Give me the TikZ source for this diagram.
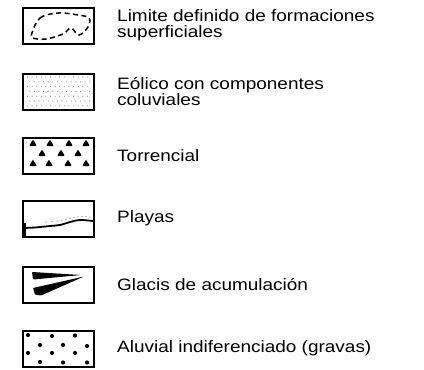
\documentclass[tikz,border=0pt]{standalone}
\usepackage{fontspec}
\setmainfont{Liberation Sans}[FakeStretch=1.15]
\usetikzlibrary{positioning}

\begin{document}
\begin{tikzpicture}
    [x=1pt,y=-1pt,
     legend/.style={draw,line width=2pt,minimum width=71pt,minimum height=36pt,inner sep=0pt},
     entry/.style={align=left,anchor=west,inner sep=0pt,font=\fontsize{16.5}{16}\selectfont}]

    \useasboundingbox (0,0) rectangle (424,370);

    \node[legend] (limite) at (58.5,25.5) {};
    \node[legend] (eolico) at (58.5,91.5) {};
    \node[legend] (torrencial) at (58.5,155.5) {};
    \node[legend] (playas) at (58.5,218.5) {};
    \node[legend] (glacis) at (58.5,284.5) {};
    \node[legend] (aluvial) at (58.5,348.5) {};

    % limite: dashed outline
    \draw[line width=1.5pt,dash pattern=on 5pt off 3.5pt] plot[smooth cycle,tension=0.6]
        coordinates {(32,33) (40,18) (58,13) (78,15) (89,18) (88,27) (79,35) (71,28) (63,34) (46,39) (33,38)};

    % eolico: fine stipple
    \foreach \i in {0,...,13}
        \foreach \j in {0,...,6}
            \fill[gray] ({27.5+4.6*\i+mod(\j,2)*2.3},{77+4.8*\j}) circle (0.55);

    % torrencial: triangles
    \foreach \x/\y in {33/143,50/143,69/143,86/143,42/153,61/153,78/153,33/163,49/163,68/163,86/163}
        \fill[rounded corners=1.2pt] (\x-4,\y+3.2) -- (\x,\y-3.6) -- (\x+4,\y+3.2) -- cycle;

    % playas: shore line
    \draw[line width=1.8pt] plot[smooth,tension=0.5]
        coordinates {(23,228) (35,227.5) (50,226) (60,225) (70,222) (80,220) (93,221)};
    \foreach \x/\y in {46/222,52/221.5,57/221,62/220.5,66/219.5,70/218.5,74/217.5,78/217,82/216.5,86/216.5,90/217}
        \fill[gray] (\x,\y) circle (0.6);
    \draw[line width=3pt] (24,223) -- (24,236);

    % glacis: wedges
    \fill[rounded corners=0.8pt] (32,272) -- (81,275) -- (33,279.5) -- cycle;
    \fill[rounded corners=0.8pt] (33,288) -- (84,276.5) -- (41,295.5) -- (35,294.5) -- cycle;

    % aluvial: gravel dots
    \foreach \x/\y in {28/335,52/336,75/335.5,40/345,63/345,87/346,28/353,52/353,75/353,40/362,63/362.5,87/362.5}
        \fill (\x,\y) circle (2.1);

    \node[entry, right=22pt of limite] {Limite definido de formaciones\\superficiales};
    \node[entry, right=22pt of eolico] {Eólico con componentes\\coluviales};
    \node[entry, right=22pt of torrencial] {Torrencial};
    \node[entry, right=22pt of playas] {Playas};
    \node[entry, right=22pt of glacis] {Glacis de acumulación};
    \node[entry, right=22pt of aluvial] {Aluvial indiferenciado (gravas)};

\end{tikzpicture}
\end{document}
